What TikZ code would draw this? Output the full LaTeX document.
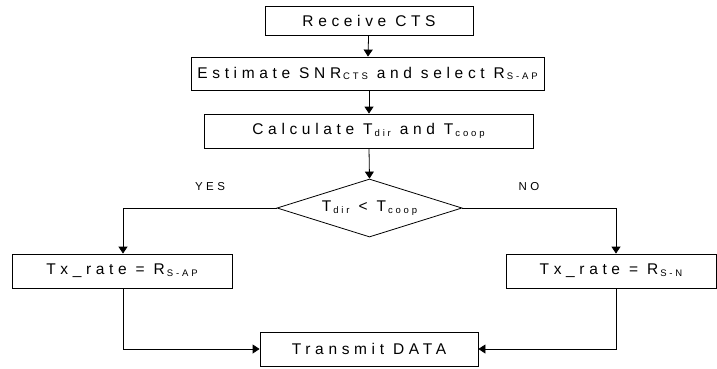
\documentclass[tikz,border=0pt]{standalone}
\usepackage{fontspec}
\setmainfont[LetterSpace=30]{Liberation Sans}
\usetikzlibrary{shapes.geometric,arrows.meta}
\newcommand{\sbs}[1]{\hspace{2pt}\raisebox{-1.5pt}{\fontsize{9.5}{9.5}\selectfont #1}}
\begin{document}
\begin{tikzpicture}[x=1pt,y=-1pt,
  box/.style={draw,line width=0.8pt,inner sep=0pt,font=\fontsize{15.5}{17}\selectfont},
  lbl/.style={inner sep=0pt,font=\fontsize{11.5}{13}\selectfont},
  arr/.style={line width=0.8pt,-{Triangle[width=9pt,length=7pt]}},
  ln/.style={line width=0.8pt}]
\useasboundingbox (0,0) rectangle (717,368);
\node[box,minimum width=208pt,minimum height=29pt] (b1) at (369,20.5) {Receive CTS};
\node[box,minimum width=353pt,minimum height=33pt] (b2) at (367.5,73.5) {Estimate SNR\sbs{CTS} and select R\sbs{S-AP}};
\node[box,minimum width=329pt,minimum height=34pt] (b3) at (368.5,131) {Calculate T\sbs{dir} and T\sbs{coop}};
\node[box,shape=diamond,aspect=3.19,minimum width=185pt,minimum height=58pt] (d) at (369.5,208) {T\sbs{dir} < T\sbs{coop}};
\node[box,minimum width=220pt,minimum height=34pt] (l) at (122,271) {Tx\_rate = R\sbs{S-AP}};
\node[box,minimum width=210pt,minimum height=34pt] (r) at (611,271) {Tx\_rate = R\sbs{S-N}};
\node[box,minimum width=218pt,minimum height=34pt] (t) at (369,349) {Transmit DATA};
\node[lbl] (yes) at (210,187) {YES};
\node[lbl] (no) at (529,187) {NO};
\draw[arr] (b1) -- (b2);
\draw[arr] (b2.south -| b1.south) -- (b3.north -| b1.south);
\draw[arr] (b3.south -| b1.south) -- (d.north);
\draw[arr] (d.west) -| ([xshift=1pt]l.north);
\draw[arr] (d.east) -| ([xshift=5pt]r.north);
\draw[arr] ([xshift=1pt]l.south) |- (t.west);
\draw[arr] ([xshift=5pt]r.south) |- (t.east);
\end{tikzpicture}
\end{document}
